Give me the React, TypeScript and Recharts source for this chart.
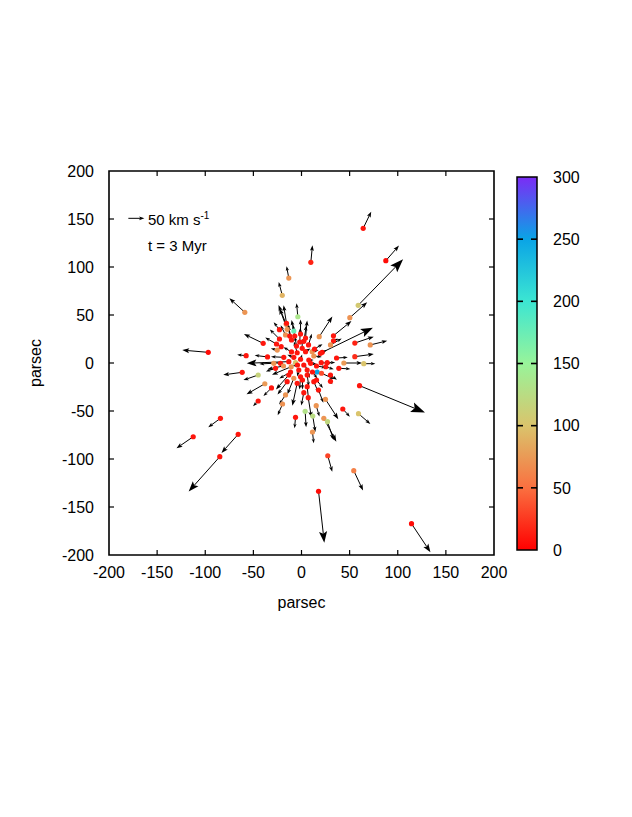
import { ScatterChart, Scatter, XAxis, YAxis, ReferenceLine, ReferenceArea, Label } from "recharts"

const FONT = "'Liberation Sans', Arial, sans-serif"

const AXIS_TICKS = [-200, -150, -100, -50, 0, 50, 100, 150, 200]
const INNER_TICKS = [-150, -100, -50, 0, 50, 100, 150]
const CBAR_TICKS = [0, 50, 100, 150, 200, 250, 300]
const CBAR_DASHES = [50, 100, 150, 200, 250]
const CBAR_MAX = 300

// star positions (pc)
const STAR_X = [
  64.1, 9.7, 87.6, 58.9, 50.2, 18.4, 33.2, 33.2, 55.4, 71.4, 21.5, 55.4, 44.0, 64.7, 38.8, 16.3, 20.8, 30.1, 60.3, 24.9,
  42.9, 59.2, 7.0, 3.8, 11.7, 15.3, 23.2, 27.0, 11.4, -6.2, 27.3, 54.3, 17.7, 114.3, -96.9, -57.5, -61.6, -45.0, -38.1, -45.0,
  -84.2, -112.5, -65.8, -84.9, -58.9, -13.2, -20.0, -3.8, -39.8, -22.9, -8.0, -15.9, -25.2,
  -14.9, -15.6, -16.6, -12.2, -26.0, -21.1, -1.8, 2.4, 0.7, 4.2, -4.5, 11.1, 12.8, 19.7, -18.4, -8.0, -1.0, 7.6, -28.8, -21.8,
  -13.2, -6.2, 2.4, 9.4, 20.5, 26.7, -27.0, -10.7, -2.8, 5.9, 25.2, 30.1, -13.2, -8.0, -1.0, 5.9, -14.9, -4.5, 5.9, 12.8,
  -16.6, 2.4, 15.6, -7.0,
  -5.2, 7.3, 13.5, -10.4, 15.6, -4.2, 11.4, -11.4, 1.0, 17.7, -18.7, -1.0, 4.2, -10.4, -22.9, -35.3, 36.4, 30.1, -31.2, -19.7,
]
const STAR_Y = [
  140.3, 104.9, 106.6, 60.1, 47.2, 27.4, 28.4, 23.2, 20.8, 18.8, 11.1, 6.6, 0.0, -0.7, -5.5, -9.4, -10.7, -19.1, -23.6, -37.8,
  -47.9, -52.8, -36.1, -50.3, -55.2, -44.5, -57.6, -61.1, -71.9, -56.6, -96.6, -112.2, -133.6, -167.4, 11.1, 7.6, -9.7, -12.5, -21.6, -39.6,
  -57.6, -76.8, -74.3, -97.6, 52.8, 88.5, 70.5, 48.2, 20.5, 34.7, 33.3, 40.3, 13.5,
  35.1, 41.4, 29.2, 28.1, 19.8, 17.0, 21.9, 22.6, 15.3, 11.8, 10.7, 11.8, 7.3, 10.1, 5.9, 5.9, 3.9, 3.1, -0.3, -0.3,
  1.4, 0.3, -2.1, -0.3, 0.3, 0.3, -5.5, -3.9, -7.3, -7.3, -3.9, -12.5, -12.5, -15.9, -14.3, -12.5, -19.5, -21.1, -24.7, -19.5,
  -33.3, -30.9, -17.7, 28.1,
  17.7, 18.8, 14.6, 11.5, -3.1, -2.1, -9.4, -9.4, -17.7, -28.1, -3.1, 30.2, 26.0, 24.0, 25.0, 6.3, 5.2, 18.8, -26.0, -42.7,
]
// velocities (km/s)
const STAR_VX = [
  25, 5, 41, 140, 54, 41, 56, 15, 59, 53, 158, 59, 57, 36, 36, 6, 40, 6, 204, 40,
  22, 37, 10, 3, 8, 10, 39, 19, 4, -3, 14, 29, 18, 59, -81, -28, -59, -46, -57, -16,
  -38, -52, -52, -97, -48, -7, -11, -4, -60, -18, -2, -24, -20,
  -24, -9, -15, -6, -35, -20, 2, 8, 0, 15, -10, 20, 25, 20, -40, -20, 5, 15, -45, -30,
  -131, -10, 10, 20, 30, 25, -30, -60, -5, 8, 25, 20, -40, -20, -3, 5, -30, -15, 5, 15,
  -20, -8, 20, -10,
  -5, 10, 25, -25, 30, -15, 15, -35, 0, 15, -50, 0, 5, -10, -30, -40, 35, 35, -25, -15,
]
const STAR_VY = [
  52, 53, 47, 144, 48, 63, 46, 6, 20, 13, 77, 8, 0, 0, -2, -6, -18, -9, -84, -62,
  -24, -32, -63, -50, -50, -34, -73, -57, -35, -34, -50, -62, -161, -89, 7, 3, -8, -16, -33, -16,
  -28, -36, -58, -109, 44, 37, 42, 42, 29, 23, 20, 60, 5,
  66, 56, 30, 40, 20, 12, 45, 50, 30, 10, 35, 5, -3, 10, 2, 8, 15, 0, -2, 2,
  -5, -5, -10, -3, -2, 1, -10, -25, -20, -25, -8, -15, -45, -50, -40, -35, -40, -70, -45, -35,
  -30, -40, -25, 50,
  30, 35, 15, 15, -5, -3, -20, -20, -30, -40, -10, 45, 55, 45, 30, 5, 2, 20, -25, -35,
]
// colour-coded value (0-300)
const STAR_C = [
  10, 15, 5, 105, 70, 72, 10, 10, 15, 70, 5, 20, 75, 100, 10, 250, 35, 10, 10, 72,
  10, 100, 10, 130, 125, 72, 72, 120, 72, 10, 30, 60, 5, 5, 5, 10, 10, 115, 75, 10,
  10, 10, 10, 10, 72, 72, 90, 135, 10, 10, 175, 72, 72,
  72, 10, 70, 10, 10, 10, 10, 10, 10, 10, 10, 70, 72, 10, 10, 10, 10, 10, 72, 10,
  10, 100, 10, 10, 10, 10, 10, 72, 10, 10, 10, 10, 10, 70, 10, 10, 10, 10, 10, 10,
  72, 10, 10, 10,
  10, 10, 10, 10, 10, 10, 10, 10, 10, 10, 70, 10, 10, 10, 10, 10, 10, 70, 10, 70,
]

const LEGEND_X = -179.9
const LEGEND_Y = 150.7
const LEGEND_V = 50

const KMS_TO_PC = 1 / 3 // arrow length in plot units per km/s

const CMAP = ["#ff0000", "#fa7040", "#dac46c", "#98f49a", "#3ce6d2", "#0aa4e6", "#7b2cf5"]

function hexToRgb(h: string) {
  return [parseInt(h.slice(1, 3), 16), parseInt(h.slice(3, 5), 16), parseInt(h.slice(5, 7), 16)]
}

function colorFor(v: number) {
  const t = Math.max(0, Math.min(1, v / CBAR_MAX)) * (CMAP.length - 1)
  const i = Math.min(CMAP.length - 2, Math.floor(t))
  const f = t - i
  const a = hexToRgb(CMAP[i])
  const b = hexToRgb(CMAP[i + 1])
  const c = a.map((av, k) => Math.round(av + (b[k] - av) * f))
  return `rgb(${c[0]},${c[1]},${c[2]})`
}

const stars = STAR_X.map((x, i) => ({ x, y: STAR_Y[i], vx: STAR_VX[i], vy: STAR_VY[i], c: STAR_C[i] }))
const cbarAnchors = CBAR_TICKS.map((t) => ({ x: 0.5, y: t }))

function Arrow(props: any) {
  const { x1, y1, x2, y2 } = props
  const dx = x2 - x1
  const dy = y2 - y1
  const len = Math.hypot(dx, dy)
  if (!len) return null
  const ux = dx / len
  const uy = dy / len
  const hl = Math.min(14, Math.max(4.5, len * 0.17 + 2.5))
  const hw = hl * 0.36
  const bx = x2 - ux * hl
  const by = y2 - uy * hl
  const nx = bx + ux * hl * 0.2
  const ny = by + uy * hl * 0.2
  return (
    <g>
      <line x1={x1} y1={y1} x2={nx} y2={ny} stroke="#000" strokeWidth={1} />
      <polygon
        points={`${x2},${y2} ${bx - uy * hw},${by + ux * hw} ${nx},${ny} ${bx + uy * hw},${by - ux * hw}`}
        fill="#000"
      />
    </g>
  )
}

function Dot(props: any) {
  const { cx, cy, payload } = props
  return <circle cx={cx} cy={cy} r={2.6} fill={colorFor(payload.c)} />
}

function Blank() {
  return <g />
}

// gradient bar with inward dashes on both edges
function ColorBar(props: any) {
  const { x, y, width, height } = props
  return (
    <g>
      <rect x={x} y={y} width={width} height={height} fill="url(#cbar)" stroke="#000" strokeWidth={1.5} />
      {CBAR_DASHES.map((t) => {
        const yy = y + height * (1 - t / CBAR_MAX)
        return (
          <g key={t} stroke="#000" strokeWidth={1.6}>
            <line x1={x} y1={yy} x2={x + 6} y2={yy} />
            <line x1={x + width - 6} y1={yy} x2={x + width} y2={yy} />
          </g>
        )
      })}
    </g>
  )
}

const tickStyle = { fill: "#000", fontSize: 16, fontFamily: FONT }
const labelStyle = { fill: "#000", fontSize: 16, fontFamily: FONT }
const TL = 5.2 // inner tick length (pc)

export default function App() {
  return (
    <div style={{ position: "relative", width: 616, height: 800, fontFamily: FONT }}>
      <ScatterChart width={500} height={620} margin={{ top: 163, right: 14, bottom: 13, left: 21 }}>
        <XAxis
          type="number"
          dataKey="x"
          domain={[-200, 200]}
          ticks={AXIS_TICKS}
          interval={0}
          allowDataOverflow
          tickLine={false}
          axisLine={false}
          tickSize={0}
          tickMargin={12}
          height={60}
          tick={tickStyle}
        >
          <Label value="parsec" position="insideBottom" offset={7} style={labelStyle} />
        </XAxis>
        <YAxis
          type="number"
          dataKey="y"
          domain={[-200, 200]}
          ticks={AXIS_TICKS}
          interval={0}
          allowDataOverflow
          tickLine={false}
          axisLine={false}
          tickSize={0}
          tickMargin={15}
          width={80}
          tick={tickStyle}
        >
          <Label value="parsec" angle={-90} position="insideLeft" offset={6} style={{ ...labelStyle, textAnchor: "middle" }} />
        </YAxis>

        {INNER_TICKS.map((t) => (
          <ReferenceLine key={`b${t}`} segment={[{ x: t, y: -200 }, { x: t, y: -200 + TL }]} stroke="#000" strokeWidth={1.2} ifOverflow="visible" />
        ))}
        {INNER_TICKS.map((t) => (
          <ReferenceLine key={`t${t}`} segment={[{ x: t, y: 200 }, { x: t, y: 200 - TL }]} stroke="#000" strokeWidth={1.2} ifOverflow="visible" />
        ))}
        {INNER_TICKS.map((t) => (
          <ReferenceLine key={`l${t}`} segment={[{ x: -200, y: t }, { x: -200 + TL, y: t }]} stroke="#000" strokeWidth={1.2} ifOverflow="visible" />
        ))}
        {INNER_TICKS.map((t) => (
          <ReferenceLine key={`r${t}`} segment={[{ x: 200, y: t }, { x: 200 - TL, y: t }]} stroke="#000" strokeWidth={1.2} ifOverflow="visible" />
        ))}

        {stars.map((s, i) => (
          <ReferenceLine
            key={`a${i}`}
            segment={[{ x: s.x, y: s.y }, { x: s.x + s.vx * KMS_TO_PC, y: s.y + s.vy * KMS_TO_PC }]}
            ifOverflow="visible"
            shape={Arrow}
          />
        ))}
        <ReferenceLine
          segment={[{ x: LEGEND_X, y: LEGEND_Y }, { x: LEGEND_X + LEGEND_V * KMS_TO_PC, y: LEGEND_Y }]}
          ifOverflow="visible"
          shape={Arrow}
        />

        <Scatter data={stars} shape={Dot} isAnimationActive={false} />

        <ReferenceArea x1={-200} x2={200} y1={-200} y2={200} fill="none" stroke="#000" strokeWidth={1.6} ifOverflow="visible" />
      </ScatterChart>

      <div style={{ position: "absolute", left: 140, top: 204, fontSize: 15, lineHeight: "15px", whiteSpace: "nowrap" }}>
        50 km s<span style={{ fontSize: 10, position: "relative", top: -6 }}>-1</span>
      </div>
      <div style={{ position: "absolute", left: 140, top: 230, fontSize: 15, lineHeight: "15px", whiteSpace: "nowrap" }}>
        t = 3 Myr
      </div>

      <div style={{ position: "absolute", left: 501, top: 0 }}>
        <ScatterChart width={100} height={600} margin={{ top: 169, right: 12, bottom: 58, left: 8 }}>
          <defs>
            <linearGradient id="cbar" x1="0" y1="1" x2="0" y2="0">
              {CMAP.map((col, i) => (
                <stop key={i} offset={`${(i / (CMAP.length - 1)) * 100}%`} stopColor={col} />
              ))}
            </linearGradient>
          </defs>
          <XAxis type="number" dataKey="x" domain={[0, 1]} hide />
          <YAxis
            type="number"
            dataKey="y"
            orientation="right"
            domain={[0, CBAR_MAX]}
            ticks={CBAR_TICKS}
            interval={0}
            tickLine={false}
            axisLine={false}
            tickSize={0}
            tickMargin={16}
            width={60}
            tick={tickStyle}
          />
          <Scatter data={cbarAnchors} shape={Blank} isAnimationActive={false} />
          <ReferenceArea x1={0} x2={1} y1={0} y2={CBAR_MAX} ifOverflow="visible" shape={ColorBar} />
        </ScatterChart>
      </div>
    </div>
  )
}
